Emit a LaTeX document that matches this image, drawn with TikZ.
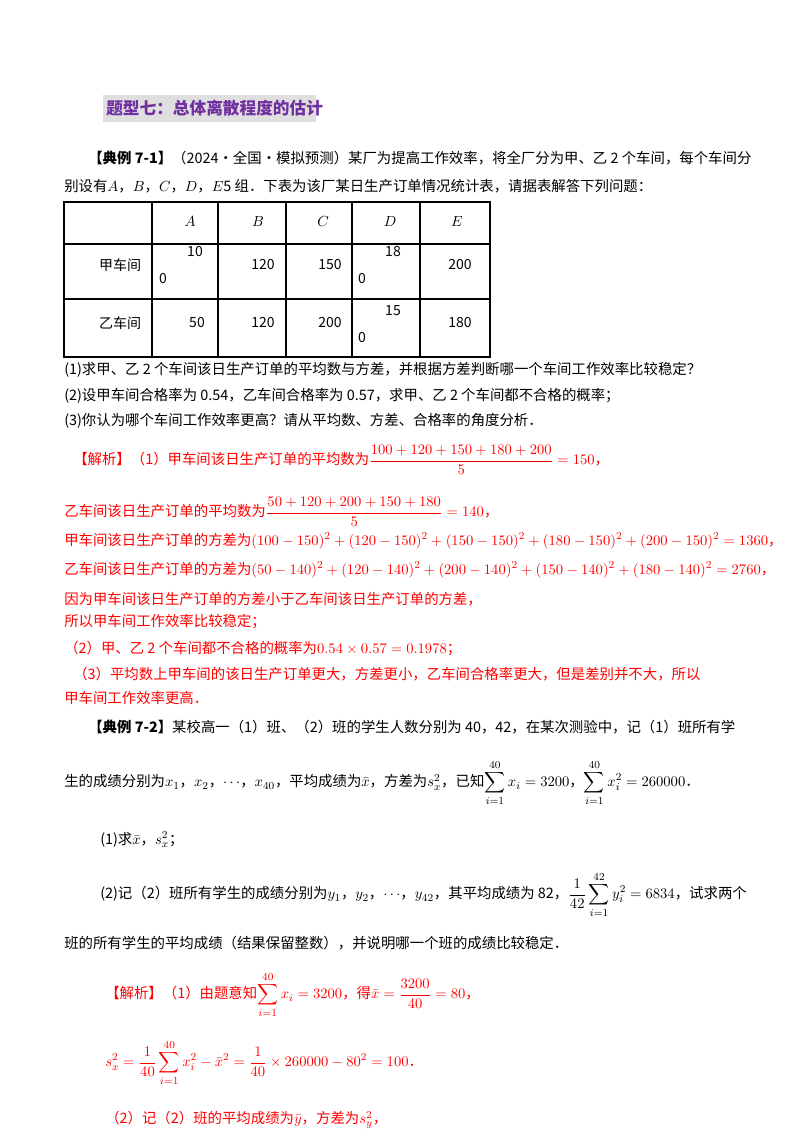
\documentclass[tikz,border=0pt]{standalone}
\usepackage{amsmath}
\usepackage{fontspec}
\setmainfont{Noto Sans CJK SC}
\definecolor{ttl}{HTML}{7030A0}
\definecolor{ans}{HTML}{FF0000}
\begin{document}
\begin{tikzpicture}[x=0.75pt,y=-0.75pt,
  t/.style={anchor=west,inner sep=0pt,font=\fontsize{10.8}{13}\selectfont},
  r/.style={t,text=ans},
  c/.style={inner sep=0pt,font=\fontsize{10.5}{13}\selectfont}]
\useasboundingbox (0,0) rectangle (800,1132);
\fill[white] (0,0) rectangle (800,1132);
% title
\fill[gray!25] (103,95) rectangle (316,122);
\node[t,text=ttl,font=\fontsize{12.5}{15}\bfseries\selectfont] (title) at (106,108) {题型七：总体离散程度的估计};
% example 7-1
\node[t] (l1) at (88,158) {\textbf{【典例 7-1】}（2024·全国·模拟预测）某厂为提高工作效率，将全厂分为甲、乙 2 个车间，每个车间分};
\node[t] (l2) at (64,186) {别设有\(A\)，\(B\)，\(C\)，\(D\)，\(E\)5 组．下表为该厂某日生产订单情况统计表，请据表解答下列问题：};
% table
\draw[line width=0.9pt] (64,202) rectangle (490,357);
\foreach \x in {152,218,286,352,420} \draw[line width=0.9pt] (\x,202) -- (\x,357);
\foreach \y in {244,299} \draw[line width=0.9pt] (64,\y) -- (490,\y);
\node[c] (hA) at (190,222) {\(A\)};
\node[c] (hB) at (258,222) {\(B\)};
\node[c] (hC) at (323,222) {\(C\)};
\node[c] (hD) at (390,222) {\(D\)};
\node[c] (hE) at (457,222) {\(E\)};
\node[c] (r1) at (120,265) {甲车间};
\node[c] (a1) at (195,252) {10};
\node[c] (a1b) at (163,279) {0};
\node[c] (b1) at (263,265) {120};
\node[c] (c1) at (330,265) {150};
\node[c] (d1) at (393,252) {18};
\node[c] (d1b) at (362,279) {0};
\node[c] (e1) at (460,265) {200};
\node[c] (r2) at (120,323) {乙车间};
\node[c] (a2) at (197,323) {50};
\node[c] (b2) at (263,323) {120};
\node[c] (c2) at (330,323) {200};
\node[c] (d2) at (393,311) {15};
\node[c] (d2b) at (362,338) {0};
\node[c] (e2) at (460,323) {180};
% questions
\node[t] (q1) at (64,370) {(1)求甲、乙 2 个车间该日生产订单的平均数与方差，并根据方差判断哪一个车间工作效率比较稳定？};
\node[t] (q2) at (64,396) {(2)设甲车间合格率为 0.54，乙车间合格率为 0.57，求甲、乙 2 个车间都不合格的概率；};
\node[t] (q3) at (64,421) {(3)你认为哪个车间工作效率更高？请从平均数、方差、合格率的角度分析．};
% solution 1
\node[r] (s1) at (73,460) {【解析】（1）甲车间该日生产订单的平均数为\(\dfrac{100+120+150+180+200}{5}=150\)，};
\node[r] (s2) at (64,512) {乙车间该日生产订单的平均数为\(\dfrac{50+120+200+150+180}{5}=140\)，};
\node[r] (s3) at (64,541) {甲车间该日生产订单的方差为\((100-150)^2+(120-150)^2+(150-150)^2+(180-150)^2+(200-150)^2=1360\)，};
\node[r] (s4) at (64,570) {乙车间该日生产订单的方差为\((50-140)^2+(120-140)^2+(200-140)^2+(150-140)^2+(180-140)^2=2760\)，};
\node[r] (s5) at (64,599) {因为甲车间该日生产订单的方差小于乙车间该日生产订单的方差，};
\node[r] (s6) at (64,622) {所以甲车间工作效率比较稳定；};
\node[r] (s7) at (64,648) {（2）甲、乙 2 个车间都不合格的概率为\(0.54\times0.57=0.1978\)；};
\node[r] (s8) at (73,674) {（3）平均数上甲车间的该日生产订单更大，方差更小，乙车间合格率更大，但是差别并不大，所以};
\node[r] (s9) at (64,698) {甲车间工作效率更高．};
% example 7-2
\node[t] (m1) at (88,727) {\textbf{【典例 7-2】}某校高一（1）班、（2）班的学生人数分别为 40，42，在某次测验中，记（1）班所有学};
\node[t] (m2) at (64,783) {生的成绩分别为\(x_1\)，\(x_2\)，\(\cdots\)，\(x_{40}\)，平均成绩为\(\bar{x}\)，方差为\(s_x^2\)，已知\(\displaystyle\sum_{i=1}^{40}x_i=3200\)，\(\displaystyle\sum_{i=1}^{40}x_i^2=260000\)．};
\node[t] (m3) at (100,840) {(1)求\(\bar{x}\)，\(s_x^2\)；};
\node[t] (m4) at (100,895) {(2)记（2）班所有学生的成绩分别为\(y_1\)，\(y_2\)，\(\cdots\)，\(y_{42}\)，其平均成绩为 82，\(\displaystyle\frac{1}{42}\sum_{i=1}^{42}y_i^2=6834\)，试求两个};
\node[t] (m5) at (64,943) {班的所有学生的平均成绩（结果保留整数），并说明哪一个班的成绩比较稳定．};
% solution 2
\node[r] (n1) at (105,995) {【解析】（1）由题意知\(\displaystyle\sum_{i=1}^{40}x_i=3200\)，得\(\bar{x}=\dfrac{3200}{40}=80\)，};
\node[r] (n2) at (105,1063) {\(\displaystyle s_x^2=\frac{1}{40}\sum_{i=1}^{40}x_i^2-\bar{x}^2=\frac{1}{40}\times260000-80^2=100\)．};
\node[r] (n3) at (105,1120) {（2）记（2）班的平均成绩为\(\bar{y}\)，方差为\(s_y^2\)，};
\end{tikzpicture}
\end{document}
